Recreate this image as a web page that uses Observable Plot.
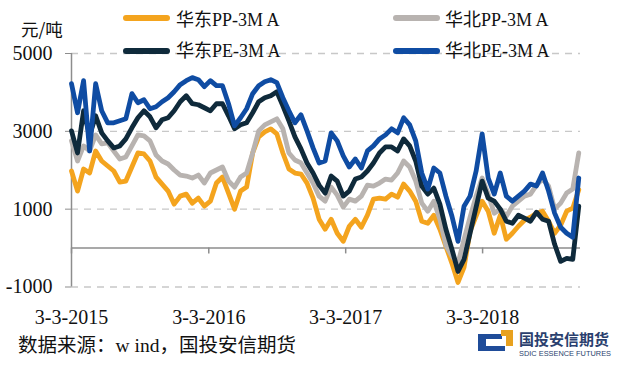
<!DOCTYPE html>
<html>
<head>
<meta charset="utf-8">
<script src="https://cdn.jsdelivr.net/npm/d3@7"></script>
<script src="https://cdn.jsdelivr.net/npm/@observablehq/plot@0.6"></script>
<style>
  html, body { margin: 0; padding: 0; background: #fff; }
  #wrap { position: relative; width: 620px; height: 367px; overflow: hidden; background: #fff; }
  #chart { position: absolute; left: 0; top: 0; }
  .abs { position: absolute; white-space: nowrap; }
  .lg-line { position: absolute; height: 6px; border-radius: 3px; }
  .lg-text { position: absolute; font-family: "Liberation Serif", "Noto Sans CJK SC", serif; font-size: 18px; line-height: 20px; color: #111; white-space: nowrap; }
</style>
</head>
<body>
<div id="wrap">
  <div id="chart"></div>
</div>
<script>
// ---- data ----
const seriesNames = ["华东PP-3M A", "华北PP-3M A", "华东PE-3M A", "华北PE-3M A"];
const seriesColors = ["#F4A41E", "#B8B3B0", "#0F2A3B", "#0F4CA3"];
const startDate = "2015-03-03";
const stepDays = 16.1;
const pointCount = 85;

const eastPP = [1980,1464,2032,1929,2496,2238,2109,1980,1697,1722,2084,2444,2419,2238,1825,1645,1464,1129,1335,1387,1155,1284,1077,1206,1671,1825,1413,1000,1464,1567,2444,2858,2987,3064,2935,2444,2032,1929,1903,1671,1284,742,484,742,381,174,561,742,536,845,1258,1284,1258,1387,1309,1645,1464,1206,690,639,845,484,45,-393,-883,-496,432,819,1206,948,381,845,226,381,561,716,794,897,948,690,381,587,948,1026,1500];
const northPP = [2754,2238,2625,2496,2909,2677,2703,2496,2290,2342,2625,2909,2883,2754,2393,2238,2161,2006,1877,1851,1800,1877,1671,1929,2006,2084,1722,1567,1825,1929,2444,3012,3167,3245,3322,3064,2444,2264,2187,1929,1671,1335,1206,1567,1361,1052,1258,1206,1335,1619,1593,1671,1774,1748,1929,2238,2084,1722,1155,948,1206,742,71,-212,-393,226,794,1335,1800,1387,897,1000,819,1077,1206,1335,1387,1619,1774,1593,1000,1155,1413,1516,2444];
const eastPE = [3012,2444,3528,2883,3399,2961,2754,2574,2625,2806,3090,3348,3528,3373,3090,3296,3348,3528,3760,3915,3709,3683,3606,3528,3709,3709,3399,3064,3167,3219,3477,3760,3864,3915,4018,3657,3270,2858,2548,2187,1929,1619,1413,1851,1722,1335,1464,1774,1825,1980,2187,2444,2600,2600,2496,2806,2625,2238,1593,1387,1542,1129,484,-32,-600,-290,381,1052,1722,1284,1206,1000,690,639,845,768,690,923,742,690,97,-342,-264,-290,1077];
const northPE = [4225,3477,4302,2496,4225,3528,3219,3219,3270,3322,3967,3735,3812,3580,3632,3760,3864,4018,4199,4302,4380,4328,4148,4302,4173,4173,3709,3141,3348,3580,3967,4173,4276,4328,4250,3864,3528,3219,3425,3012,2574,2187,2238,2961,2754,2367,2084,2290,2058,2496,2625,2806,2909,3064,2961,3348,3167,2754,1929,1516,2058,1929,1335,819,174,1077,1335,1980,2935,1800,1387,1929,1335,1206,1335,1464,1645,1593,1929,1464,897,536,381,278,1800];
const seriesValues = [eastPP, northPP, eastPE, northPE];

const xTickDates = ["2015-03-03", "2016-03-03", "2017-03-03", "2018-03-03"];
const xTickLabels = ["3-3-2015", "3-3-2016", "3-3-2017", "3-3-2018"];
const yTicks = [5000, 3000, 1000, -1000];
const gridValues = [5000, 3000, 1000, -1000];
const unitLabel = "元/吨";
const captionText = "数据来源：w ind，国投安信期货";
const logoName = "国投安信期货";
const logoSub = "SDIC ESSENCE FUTURES";

// ---- build ----
const DAY = 864e5;
const t0 = new Date(startDate + "T00:00:00Z").getTime();
const dates = d3.range(pointCount).map(i => new Date(t0 + i * stepDays * DAY));
const rows = [];
seriesValues.forEach((vals, s) => {
  vals.forEach((v, i) => rows.push({date: dates[i], value: v, series: seriesNames[s]}));
});
const tickDates = xTickDates.map(d => new Date(d + "T00:00:00Z"));
const labelMap = new Map(tickDates.map((d, i) => [+d, xTickLabels[i]]));

const chart = Plot.plot({
  width: 620,
  height: 367,
  marginLeft: 71,
  marginRight: 40,
  marginTop: 53,
  marginBottom: 80.5,
  style: {fontFamily: "'Liberation Serif', serif", fontSize: "20px", color: "#111", background: "transparent", overflow: "visible"},
  x: {type: "utc", domain: [new Date(t0), new Date(t0 + 1357 * DAY)]},
  y: {domain: [-1000, 5000]},
  color: {domain: seriesNames, range: seriesColors},
  marks: [
    Plot.ruleY(gridValues, {stroke: "#c8c8c8", strokeWidth: 1.3, strokeDasharray: "7,6"}),
    Plot.ruleY([0], {stroke: "#8d8d8d", strokeWidth: 1.5}),
    Plot.ruleX(tickDates, {y1: 0, y2: -150, stroke: "#8d8d8d", strokeWidth: 1.5}),
    Plot.ruleX([new Date(t0)], {y1: -1000, y2: 5000, stroke: "#8d8d8d", strokeWidth: 1.5}),
    Plot.axisY({ticks: yTicks, tickSize: 6, tickPadding: 13, fontSize: 20, stroke: "#8d8d8d", fill: "#111", tickFormat: d => String(d), label: null}),
    Plot.axisX({ticks: tickDates, tickSize: 0, tickPadding: 23, fontSize: 20, fill: "#111", tickFormat: d => labelMap.get(+d), label: null}),
    ...seriesNames.map((name, s) => Plot.line(rows.filter(r => r.series === name), {
      x: "date", y: "value", stroke: seriesColors[s], strokeWidth: 4.8,
      strokeLinejoin: "round", strokeLinecap: "round"
    }))
  ]
});
document.getElementById("chart").appendChild(chart);

// ---- overlays: legend, unit, caption, logo ----
const wrap = document.getElementById("wrap");
const legendPos = [
  {lx: 123, ly: 15, tx: 176, ty: 10},
  {lx: 393, ly: 15, tx: 445, ty: 10},
  {lx: 123, ly: 48, tx: 176, ty: 41},
  {lx: 393, ly: 48, tx: 445, ty: 41}
];
seriesNames.forEach((name, s) => {
  const p = legendPos[s];
  const ln = document.createElement("div");
  ln.className = "lg-line";
  ln.style.left = p.lx + "px"; ln.style.top = p.ly + "px"; ln.style.width = "47px";
  ln.style.background = seriesColors[s];
  wrap.appendChild(ln);
  const tx = document.createElement("div");
  tx.className = "lg-text";
  tx.style.left = p.tx + "px"; tx.style.top = p.ty + "px";
  tx.textContent = name;
  wrap.appendChild(tx);
});

const unit = document.createElement("div");
unit.className = "abs";
unit.style.cssText += "left:21px;top:20px;font-family:'Noto Sans CJK SC',sans-serif;font-size:17.5px;line-height:18px;color:#111;";
unit.textContent = unitLabel;
wrap.appendChild(unit);

const cap = document.createElement("div");
cap.className = "abs";
cap.style.cssText += "left:18px;top:335px;font-family:'Liberation Serif','Noto Sans CJK SC',serif;font-size:19.5px;line-height:22px;color:#111;";
cap.textContent = captionText;
wrap.appendChild(cap);

const logo = document.createElementNS("http://www.w3.org/2000/svg", "svg");
logo.setAttribute("width", "40"); logo.setAttribute("height", "26");
logo.style.cssText = "position:absolute;left:476px;top:328px;";
logo.innerHTML = '<path d="M2,6 L26,6 L26,11 L10,11 L10,18 L29,18 L29,23 L2,23 Z" fill="#1F4C99"/>' +
                 '<path d="M25,2 L37,2 L37,18 L30,18 L30,8 L25,8 Z" fill="#E8A11E"/>';
wrap.appendChild(logo);

const ln1 = document.createElement("div");
ln1.className = "abs";
ln1.style.cssText += "left:519px;top:331px;font-family:'Noto Sans CJK SC',sans-serif;font-size:15px;line-height:16px;font-weight:bold;color:#2a3f6e;";
ln1.textContent = logoName;
wrap.appendChild(ln1);
const ln2 = document.createElement("div");
ln2.className = "abs";
ln2.style.cssText += "left:519px;top:350px;font-family:'Liberation Sans',sans-serif;font-size:7.4px;line-height:8px;color:#2a3f6e;";
ln2.textContent = logoSub;
wrap.appendChild(ln2);
</script>
</body>
</html>
